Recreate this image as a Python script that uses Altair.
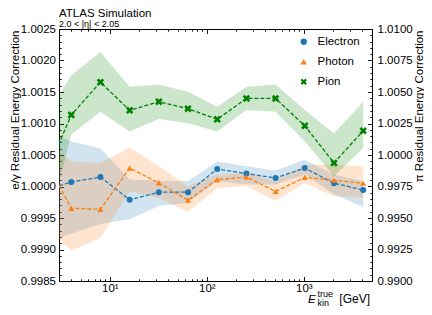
import altair as alt
import pandas as pd

# ---------------- data ----------------
energy = [2, 4, 8, 16, 32, 64, 128, 256, 512, 1024, 2048, 4096]

electron = [0.999923, 1.000072, 1.000151, 0.999789, 0.999910, 0.999910,
            1.000277, 1.000205, 1.000135, 1.000293, 1.000052, 0.999946]
electron_hi = [1.000902, 1.000713, 1.000608, 1.000110, 1.000090, 1.000083,
               1.000398, 1.000320, 1.000252, 1.000425, 1.000189, 1.000083]
electron_lo = [0.999091, 0.999250, 0.999406, 0.999480, 0.999690, 0.999742,
               1.000083, 1.000031, 1.000031, 1.000189, 0.999874, 0.999674]

photon = [1.000521, 0.999654, 0.999638, 1.000293, 1.000057, 0.999784,
          1.000110, 1.000151, 0.999921, 1.000146, 1.000099, 1.000052]
photon_hi = [1.000792, 1.000400, 1.000372, 1.000619, 1.000320, 1.000005,
             1.000189, 1.000214, 1.000083, 1.000346, 1.000346, 1.000320]
photon_lo = [0.999422, 0.998981, 0.999186, 0.999926, 0.999816, 0.999595,
             0.999978, 1.000005, 0.999769, 1.000057, 0.999847, 0.999820]

pion = [0.997770, 1.003181, 1.005780, 1.003543, 1.004228, 1.003677,
        1.002835, 1.004488, 1.004488, 1.002315, 0.999370, 1.001921]
pion_hi = [1.002390, 1.006331, 1.008165, 1.005409, 1.005591, 1.005016,
           1.003835, 1.005409, 1.005591, 1.003575, 1.001709, 1.004228]
pion_lo = [0.992570, 1.001630, 1.003441, 1.001866, 1.002866, 1.002520,
           1.001866, 1.003575, 1.003441, 1.001079, 0.998300, 1.000551]

series_names = ["Electron", "Photon", "Pion"]
series_colors = ["#1f77b4", "#ff7f0e", "#008000"]

x_major = [10, 100, 1000]
x_ticks = [m * 10 ** k for k in range(0, 4) for m in range(1, 10) if 2.99 <= m * 10 ** k <= 5050]
yL_major = [round(0.9985 + i * 0.0005, 4) for i in range(9)]
yL_ticks = [round(0.9985 + i * 0.0001, 4) for i in range(41)]
yR_major = [round(0.99 + i * 0.0025, 4) for i in range(9)]
yR_ticks = [round(0.99 + i * 0.0005, 4) for i in range(41)]

# ---------------- styling ----------------
FONT = "Liberation Sans"
W, H = 313, 252
X_PATH = "M-1,-0.5L-0.5,-1L0,-0.5L0.5,-1L1,-0.5L0.5,0L1,0.5L0.5,1L0,0.5L-0.5,1L-1,0.5L-0.5,0Z"


def frame(name, v, hi, lo):
    return pd.DataFrame({"E": energy, "series": [name] * len(energy),
                         "value": v, "hi": hi, "lo": lo})


df_e = frame("Electron", electron, electron_hi, electron_lo)
df_p = frame("Photon", photon, photon_hi, photon_lo)
df_pi = frame("Pion", pion, pion_hi, pion_lo)
df_eg = pd.concat([df_e, df_p], ignore_index=True)

xscale = alt.Scale(type="log", domain=[2.99, 5050], nice=False)
yL = alt.Scale(domain=[0.9985, 1.0025], nice=False, zero=False)
yR = alt.Scale(domain=[0.99, 1.01], nice=False, zero=False)
cscale = alt.Scale(domain=series_names, range=series_colors)
sscale = alt.Scale(domain=series_names, range=["circle", "triangle-up", X_PATH])

TEST_X = "abs(log(datum.value)/LN10 - round(log(datum.value)/LN10)) < 0.001"
TEST_YL = "abs((datum.value - 0.9985)/0.0005 - round((datum.value - 0.9985)/0.0005)) < 0.01"
TEST_YR = "abs((datum.value - 0.99)/0.0025 - round((datum.value - 0.99)/0.0025)) < 0.01"


def tick_axis(orient, offset, values, test):
    return alt.Axis(orient=orient, offset=offset, values=values, labels=False,
                    domain=False, grid=False, ticks=True, tickSize=4.5,
                    tickColor="black", tickWidth=0.9,
                    tickDash={"condition": {"test": test, "value": [10, 0]},
                              "value": [2.2, 10]},
                    title=None)


x_label_axis = alt.Axis(orient="bottom", values=x_major,
                        labelExpr="datum.value == 10 ? '10¹' : datum.value == 100 ? '10²' : '10³'",
                        ticks=False, tickSize=0, domain=False, grid=False,
                        labelPadding=1, labelFontSize=11.5, labelOverlap=False,
                        labelFlush=False, title=None)
yL_label_axis = alt.Axis(orient="left", values=yL_major, format=".4f", ticks=False,
                         tickSize=0, domain=False, grid=False, labelPadding=3.5,
                         labelFontSize=11.5, labelOverlap=False, labelFlush=False,
                         title="e/γ Residual Energy Correction", titleFontSize=11.5,
                         titleFontWeight="normal", titleAnchor="end", titleAngle=270,
                         titleAlign="right", titleBaseline="bottom", titleX=-38.5, titleY=1)
yR_label_axis = alt.Axis(orient="right", values=yR_major, format=".4f", ticks=False,
                         tickSize=0, domain=False, grid=False, labelPadding=5,
                         labelFontSize=11.5, labelOverlap=False, labelFlush=False,
                         title="π Residual Energy Correction", titleFontSize=11.5,
                         titleFontWeight="normal", titleAnchor="end", titleAngle=270,
                         titleAlign="right", titleBaseline="bottom", titleX=52, titleY=1)

legend = alt.Legend(orient="none", legendX=239, legendY=7, title=None,
                    labelFontSize=11.5, labelFont=FONT, labelColor="black",
                    symbolSize=40, rowPadding=7, labelOffset=8, padding=0)


def band(df, color, yscale, xaxis, yaxis):
    return alt.Chart(df).mark_area(opacity=0.2, clip=True, color=color).encode(
        x=alt.X("E:Q", scale=xscale, axis=xaxis),
        y=alt.Y("hi:Q", scale=yscale, axis=yaxis),
        y2="lo:Q",
    )


def line(df, color, yscale, xaxis, yaxis):
    return alt.Chart(df).mark_line(strokeDash=[4, 2], strokeWidth=1.3, clip=True,
                                   color=color).encode(
        x=alt.X("E:Q", scale=xscale, axis=xaxis),
        y=alt.Y("value:Q", scale=yscale, axis=yaxis),
    )


band_e = band(df_e, series_colors[0], yL, x_label_axis, yL_label_axis)
band_p = band(df_p, series_colors[1], yL, None, None)
band_pi = band(df_pi, series_colors[2], yR, None, yR_label_axis)
line_e = line(df_e, series_colors[0], yL, tick_axis("top", -H, x_ticks, TEST_X),
              tick_axis("right", -W, yL_ticks, TEST_YL))
line_p = line(df_p, series_colors[1], yL, tick_axis("bottom", -H, x_ticks, TEST_X), None)
line_pi = line(df_pi, series_colors[2], yR, None, tick_axis("left", -W, yR_ticks, TEST_YR))

pts_eg = alt.Chart(df_eg).mark_point(filled=True, size=36, opacity=1, clip=True).encode(
    x=alt.X("E:Q", scale=xscale, axis=None),
    y=alt.Y("value:Q", scale=yL, axis=None),
    color=alt.Color("series:N", scale=cscale, legend=legend),
    shape=alt.Shape("series:N", scale=sscale, legend=legend),
)
pts_pi = alt.Chart(df_pi).mark_point(filled=True, size=56, opacity=1, clip=True).encode(
    x=alt.X("E:Q", scale=xscale, axis=None),
    y=alt.Y("value:Q", scale=yR, axis=None),
    color=alt.Color("series:N", scale=cscale, legend=legend),
    shape=alt.Shape("series:N", scale=sscale, legend=legend),
)


def text_layer(txt, x, y, size, align="left", style="normal"):
    return alt.Chart(pd.DataFrame({"t": [txt]})).mark_text(
        align=align, baseline="alphabetic", fontSize=size, font=FONT,
        fontStyle=style, color="black",
    ).encode(x=alt.value(x), y=alt.value(y), text="t:N")


texts = [
    text_layer("ATLAS Simulation", 0, -12, 11.5),
    text_layer("2.0 < |η| < 2.05", 0, -2.5, 9),
    text_layer("E", 249, 274, 11.5, style="italic"),
    text_layer("true", 258.5, 268, 9),
    text_layer("kin", 258.5, 277, 9),
    text_layer("[GeV]", 311, 274, 12, align="right"),
]

chart = alt.layer(
    band_e, band_p, band_pi, line_e, line_p, pts_eg, line_pi, pts_pi, *texts
).resolve_scale(y="independent").resolve_axis(
    x="independent", y="independent"
).properties(
    width=W, height=H,
    padding={"left": 51, "top": 21, "right": 52, "bottom": 26},
    autosize=alt.AutoSizeParams(type="none"),
).configure_view(
    stroke="black", strokeWidth=1
).configure_axis(
    labelColor="black", titleColor="black", labelFont=FONT, titleFont=FONT
)

chart.save("out.html", embed_options={"renderer": "svg", "actions": False})
